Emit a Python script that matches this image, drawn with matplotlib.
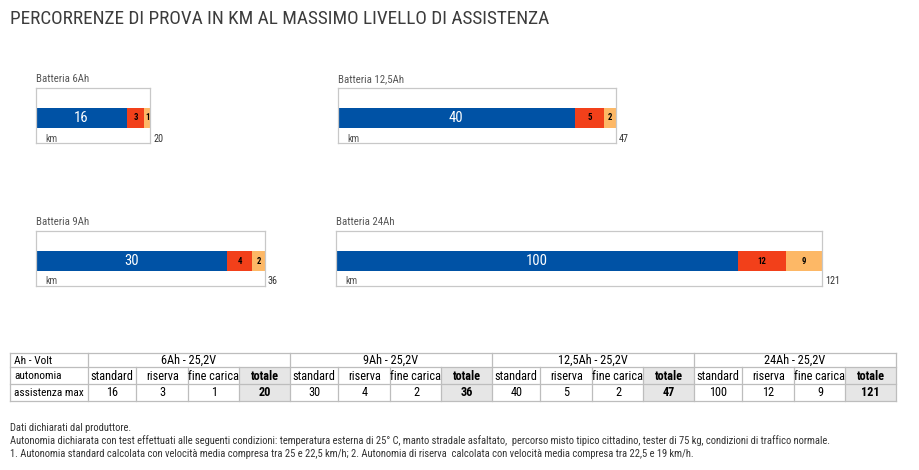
import matplotlib
matplotlib.use("Agg")
import matplotlib.pyplot as plt
from matplotlib import font_manager
from matplotlib.patches import Rectangle

# data
batterie = ['6Ah', '9Ah', '12,5Ah', '24Ah']
standard = [16, 30, 40, 100]
riserva = [3, 4, 5, 12]
fine_carica = [1, 2, 2, 9]
totale = [20, 36, 47, 121]
tensione = '25,2V'
righe = ['Ah - Volt', 'autonomia', 'assistenza max']
sottocolonne = ['standard', 'riserva', 'fine carica', 'totale']
note = [
    "Dati dichiarati dal produttore.",
    "Autonomia dichiarata con test effettuati alle seguenti condizioni: temperatura esterna di 25° C, manto stradale asfaltato,  percorso misto tipico cittadino, tester di 75 kg, condizioni di traffico normale.",
    "1. Autonomia standard calcolata con velocità media compresa tra 25 e 22,5 km/h; 2. Autonomia di riserva  calcolata con velocità media compresa tra 22,5 e 19 km/h.",
]

# the original uses a condensed face: take one if installed
names = sorted({f.name for f in font_manager.fontManager.ttflist})
narrow = None
for pref in ['Roboto Condensed', 'Liberation Sans Narrow', 'Open Sans Condensed', 'DejaVu Sans Condensed']:
    if pref in names:
        narrow = pref
        break
if narrow is None:
    for n in names:
        if 'Condensed' in n or 'Narrow' in n:
            narrow = n
            break
if narrow:
    plt.rcParams['font.family'] = [narrow, 'DejaVu Sans']
    k = 1.0
else:
    plt.rcParams['font.family'] = ['Liberation Sans', 'DejaVu Sans']
    k = 0.84

BLUE = '#0052a5'
RED = '#f2401a'
ORANGE = '#fdb866'
GRID = '#bdbdbd'
W, H = 920, 470

fig = plt.figure(figsize=(9.2, 4.7), dpi=100)


def rect(l, t, r, b):
    return [l / W, 1 - b / H, (r - l) / W, (b - t) / H]


fig.text(10 / W, 1 - 19 / H, 'PERCORRENZE DI PROVA IN KM AL MASSIMO LIVELLO DI ASSISTENZA',
         fontsize=13.9 * k, color='#3c3c3c', va='center', ha='left')

# box position of each battery panel (pixels: left, top, right, bottom)
boxes = [(36, 88, 150, 143), (36, 231, 265, 286), (338, 88, 616, 143), (336, 231, 822, 286)]

for i, name in enumerate(batterie):
    l, t, r, b = boxes[i]
    ax = fig.add_axes(rect(l, t, r, b))
    ax.set_xlim(0, totale[i])
    ax.set_ylim(0, 1)
    for s in ax.spines.values():
        s.set_color('#c8c8c8')
        s.set_linewidth(0.9)
    ax.set_xticks([])
    ax.set_yticks([])
    yc, h = 25 / 55, 20 / 55
    parts = [standard[i], riserva[i], fine_carica[i]]
    cols = [BLUE, RED, ORANGE]
    left = 0
    for j, (v, c) in enumerate(zip(parts, cols)):
        ax.barh(yc, v, height=h, left=left, color=c, edgecolor='none')
        if j == 0:
            ax.text(left + v / 2, yc, str(v), color='white', fontsize=10.5,
                    ha='center', va='center')
        else:
            ax.text(left + v / 2, yc, str(v), color='black', fontsize=6.3,
                    fontweight='bold', ha='center', va='center')
        left += v
    ax.text(0, 1 + 6 / 55, 'Batteria ' + name, transform=ax.transAxes, fontsize=7.8,
            color='#555555', ha='left', va='baseline')
    ax.text(9 / (r - l), 1.5 / 55, 'km', transform=ax.transAxes, fontsize=7.3,
            color='#555555', ha='left', va='baseline')
    ax.text(1 + 3 / (r - l), 1.5 / 55, str(totale[i]), transform=ax.transAxes,
            fontsize=7.3, color='#333333', ha='left', va='baseline')

# table
tab = fig.add_axes([0, 0, 1, 1])
tab.set_xlim(0, W)
tab.set_ylim(H, 0)
tab.axis('off')

x0, x1 = 10, 88
sub_w = [48.5, 52, 51, 50.5]
rows = [353, 367, 384, 401]
col_edges = [x0, x1]
for g in range(4):
    for w in sub_w:
        col_edges.append(col_edges[-1] + w)

# grey totale cells
for g in range(4):
    c = 1 + g * 4 + 3
    tab.add_patch(Rectangle((col_edges[c], rows[1]), col_edges[c + 1] - col_edges[c],
                            rows[3] - rows[1], facecolor='#e6e6e6', edgecolor='none'))

lw = 0.9
for y in rows:
    tab.plot([x0, col_edges[-1]], [y, y], color=GRID, lw=lw)
tab.plot([x0, x0], [rows[0], rows[3]], color=GRID, lw=lw)
for n, x in enumerate(col_edges[1:], start=1):
    if (n - 1) % 4 == 0:
        tab.plot([x, x], [rows[0], rows[3]], color=GRID, lw=lw)
    else:
        tab.plot([x, x], [rows[1], rows[3]], color=GRID, lw=lw)

fs = 8.8 * k


def ymid(r):
    return (rows[r] + rows[r + 1]) / 2 + 0.5


for r, lab in enumerate(righe):
    tab.text(x0 + 4, ymid(r), lab, fontsize=8.2 * k, va='center', ha='left')
for g in range(4):
    gl = col_edges[1 + g * 4]
    gr = col_edges[1 + g * 4 + 4]
    tab.text((gl + gr) / 2, ymid(0), batterie[g] + ' - ' + tensione, fontsize=fs,
             va='center', ha='center')
    vals = [standard[g], riserva[g], fine_carica[g], totale[g]]
    for s in range(4):
        cl = col_edges[1 + g * 4 + s]
        cr = col_edges[1 + g * 4 + s + 1]
        wt = 'bold' if s == 3 else 'normal'
        tab.text((cl + cr) / 2, ymid(1), sottocolonne[s], fontsize=fs, va='center',
                 ha='center', fontweight=wt)
        tab.text((cl + cr) / 2, ymid(2), str(vals[s]), fontsize=fs, va='center',
                 ha='center', fontweight=wt)

for n, line in enumerate(note):
    tab.text(10, 428 + n * 13, line, fontsize=7.6 * k, color='#333333', va='center', ha='left')

fig.savefig('out.png', dpi=100)
